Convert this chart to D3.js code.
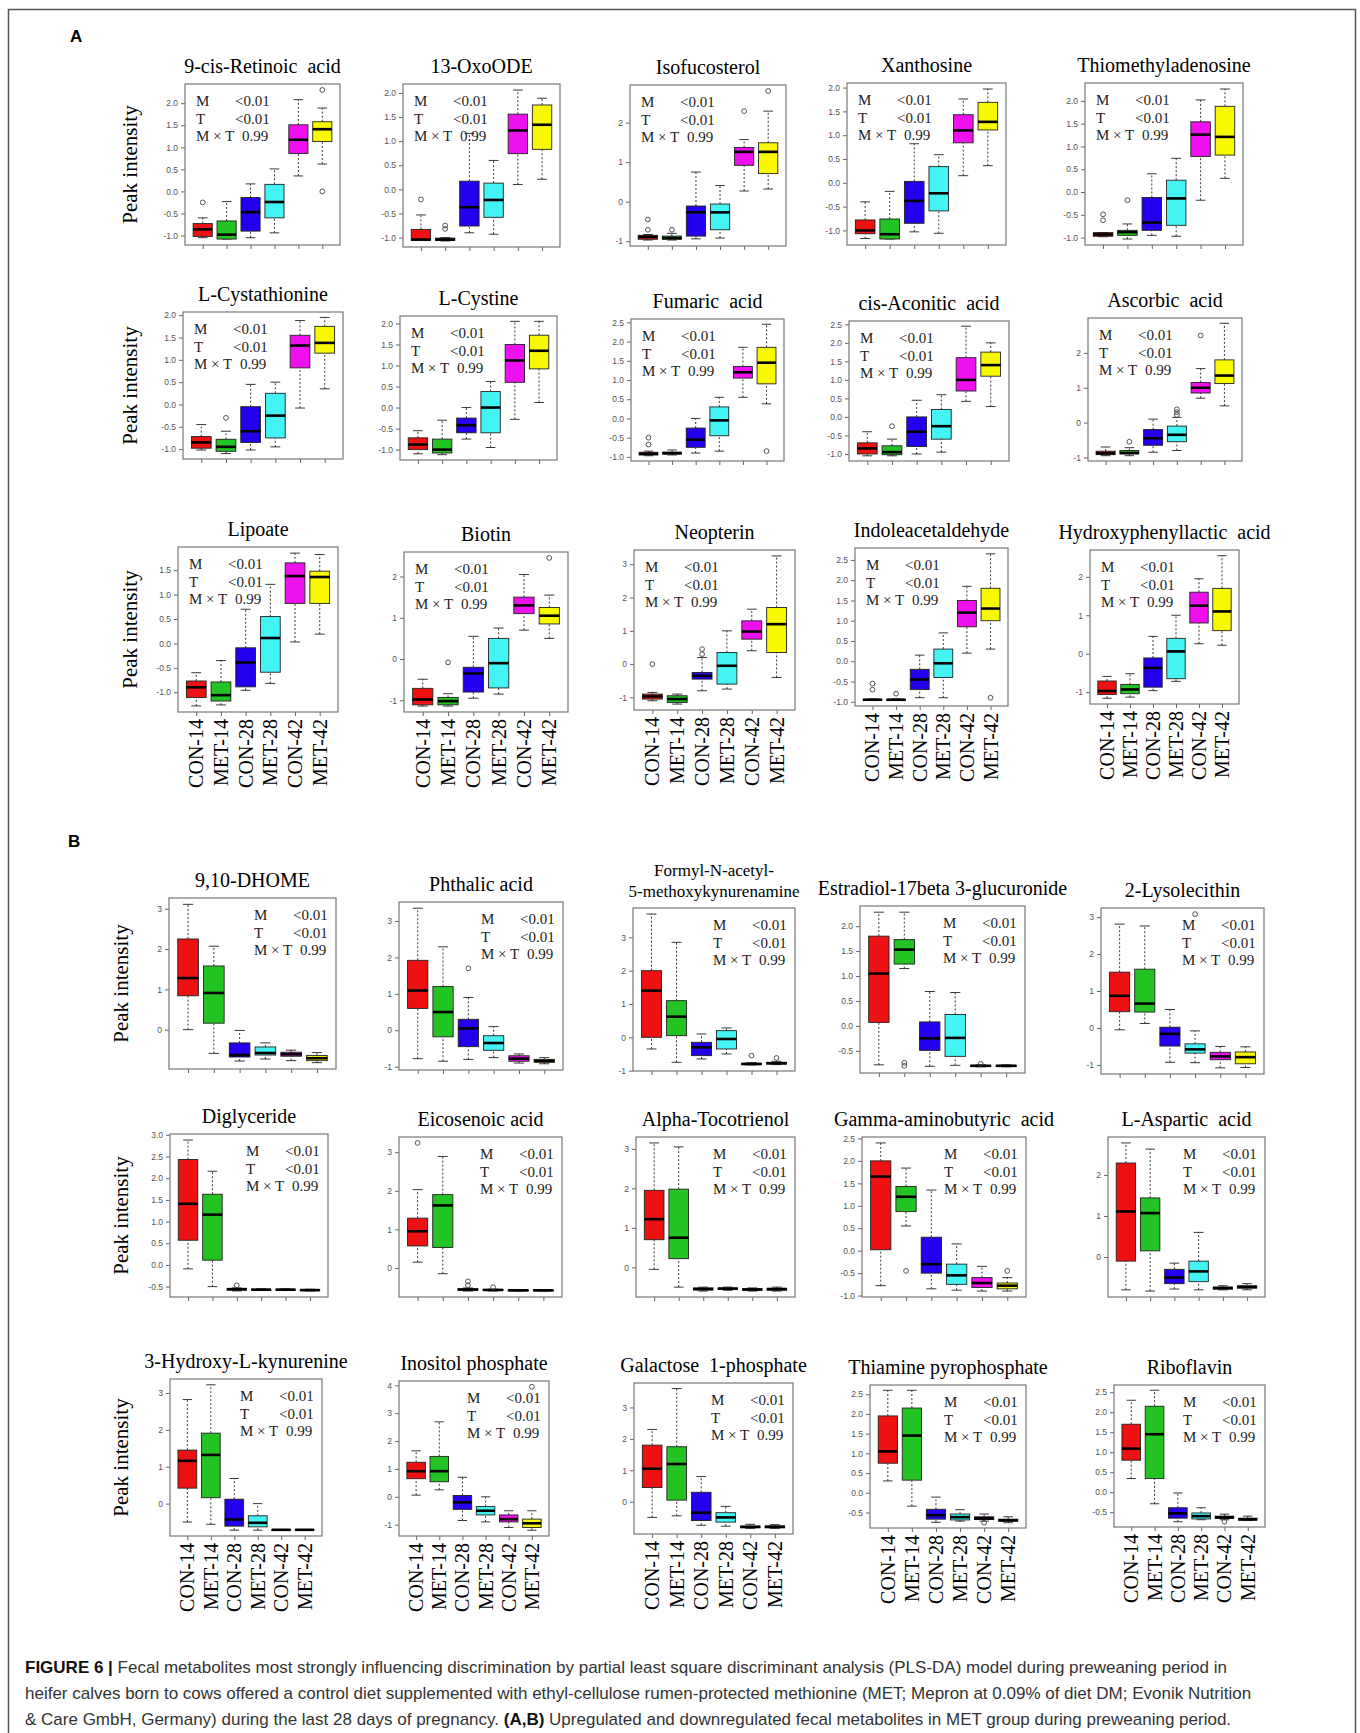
<!DOCTYPE html>
<html>
<head>
<meta charset="utf-8">
<script src="https://cdn.jsdelivr.net/npm/d3@7"></script>
<style>
  body { margin: 0; background: #fff; }
  svg { display: block; }
</style>
</head>
<body>
<svg id="fig" width="1360" height="1733"></svg>
<script>
// groups and colours shared by every panel
const groups = ['CON-14', 'MET-14', 'CON-28', 'MET-28', 'CON-42', 'MET-42']
const groupColors = ['#ee1111', '#22c322', '#2200ee', '#44f4f4', '#ee11ee', '#f8f800']
const statNames = ['M', 'T', 'M \u00d7 T']
const statValues = ['<0.01', '<0.01', '0.99']

// five-number summaries per group: [low whisker, Q1, median, Q3, high whisker]
// outliers: [group index, value]
const retinoicAcid = [[-1.05, -1.02, -0.86, -0.73, -0.60], [-1.08, -1.08, -0.98, -0.67, -0.23], [-1.05, -0.90, -0.47, -0.14, 0.17], [-0.94, -0.60, -0.24, 0.16, 0.51], [0.35, 0.86, 1.17, 1.51, 2.08], [0.62, 1.13, 1.41, 1.58, 1.89]]
const retinoicAcidOut = [[0, -0.25], [5, 2.30], [5, 0.0]]
const retinoicAcidTicks = [-1, -0.5, 0, 0.5, 1, 1.5, 2]

const oxoODE = [[-1.06, -1.06, -1.04, -0.83, -0.53], [-1.07, -1.06, -1.04, -1.01, -1.0], [-0.90, -0.76, -0.37, 0.17, 1.16], [-0.93, -0.58, -0.22, 0.13, 0.60], [0.10, 0.74, 1.22, 1.56, 2.06], [0.21, 0.83, 1.34, 1.75, 1.89]]
const oxoODEOut = [[0, -0.21], [1, -0.75], [1, -0.82]]
const oxoODETicks = [-1, -0.5, 0, 0.5, 1, 1.5, 2]

const isofucosterol = [[-0.97, -0.95, -0.89, -0.85, -0.83], [-0.97, -0.95, -0.92, -0.87, -0.80], [-0.94, -0.87, -0.27, -0.11, 0.75], [-0.92, -0.71, -0.27, -0.06, 0.41], [0.27, 0.92, 1.26, 1.37, 1.57], [0.32, 0.71, 1.26, 1.49, 2.29]]
const isofucosterolOut = [[0, -0.45], [0, -0.71], [1, -0.71], [4, 2.29], [5, 2.80]]
const isofucosterolTicks = [-1, 0, 1, 2]

const xanthosine = [[-1.17, -1.07, -1.0, -0.78, -0.40], [-1.18, -1.18, -1.08, -0.76, -0.18], [-1.03, -0.85, -0.38, 0.03, 0.82], [-1.06, -0.59, -0.22, 0.34, 0.59], [0.15, 0.84, 1.10, 1.43, 1.76], [0.36, 1.11, 1.28, 1.69, 1.97]]
const xanthosineOut = []
const xanthosineTicks = [-1, -0.5, 0, 0.5, 1, 1.5, 2]

const thiomethyladenosine = [[-0.98, -0.97, -0.93, -0.89, -0.89], [-1.03, -0.95, -0.88, -0.84, -0.70], [-0.95, -0.84, -0.67, -0.12, 0.40], [-0.97, -0.73, -0.14, 0.26, 0.74], [-0.18, 0.78, 1.26, 1.54, 2.02], [0.30, 0.81, 1.21, 1.88, 2.26]]
const thiomethyladenosineOut = [[0, -0.49], [0, -0.62], [1, -0.18]]
const thiomethyladenosineTicks = [-1, -0.5, 0, 0.5, 1, 1.5, 2]

const cystathionine = [[-1.02, -0.98, -0.85, -0.72, -0.45], [-1.1, -1.05, -0.95, -0.78, -0.6], [-1.02, -0.85, -0.6, -0.05, 0.45], [-0.95, -0.75, -0.25, 0.25, 0.5], [-0.08, 0.82, 1.32, 1.55, 1.88], [0.35, 1.15, 1.38, 1.75, 1.95]]
const cystathionineOut = [[1, -0.3]]
const cystathionineTicks = [-1, -0.5, 0, 0.5, 1, 1.5, 2]

const cystine = [[-1.1, -1.0, -0.88, -0.72, -0.55], [-1.12, -1.08, -1.0, -0.75, -0.3], [-0.75, -0.6, -0.42, -0.25, 0.0], [-0.95, -0.6, 0.0, 0.38, 0.62], [-0.28, 0.6, 1.12, 1.5, 2.05], [0.12, 0.92, 1.35, 1.72, 2.05]]
const cystineOut = []
const cystineTicks = [-1, -0.5, 0, 0.5, 1, 1.5, 2]

const fumaricAcid = [[-0.97, -0.95, -0.92, -0.88, -0.85], [-0.95, -0.93, -0.9, -0.88, -0.82], [-0.9, -0.75, -0.55, -0.25, 0.0], [-0.85, -0.45, -0.05, 0.3, 0.55], [0.55, 1.05, 1.2, 1.35, 1.85], [0.38, 0.9, 1.45, 1.85, 2.45]]
const fumaricAcidOut = [[0, -0.5], [0, -0.68], [5, -0.85]]
const fumaricAcidTicks = [-1, -0.5, 0, 0.5, 1, 1.5, 2, 2.5]

const aconiticAcid = [[-1.05, -1.0, -0.85, -0.7, -0.4], [-1.05, -1.02, -0.95, -0.78, -0.6], [-1.0, -0.8, -0.4, 0.0, 0.45], [-0.95, -0.6, -0.25, 0.2, 0.6], [0.42, 0.7, 1.0, 1.6, 2.45], [0.28, 1.1, 1.4, 1.75, 2.0]]
const aconiticAcidOut = [[1, -0.25]]
const aconiticAcidTicks = [-1, -0.5, 0, 0.5, 1, 1.5, 2, 2.5]

const ascorbicAcid = [[-0.95, -0.92, -0.88, -0.82, -0.7], [-0.95, -0.9, -0.87, -0.8, -0.72], [-0.85, -0.65, -0.45, -0.2, 0.1], [-0.8, -0.55, -0.35, -0.1, 0.15], [0.7, 0.85, 1.0, 1.15, 1.55], [0.48, 1.12, 1.35, 1.8, 2.85]]
const ascorbicAcidOut = [[1, -0.55], [3, 0.22], [3, 0.3], [3, 0.38], [4, 2.5]]
const ascorbicAcidTicks = [-1, 0, 1, 2]

const lipoate = [[-1.28, -1.11, -0.90, -0.77, -0.60], [-1.26, -1.18, -1.06, -0.79, -0.35], [-0.96, -0.89, -0.39, -0.09, 0.70], [-0.82, -0.59, 0.11, 0.55, 1.21], [0.03, 0.82, 1.38, 1.65, 1.85], [0.19, 0.82, 1.36, 1.48, 1.82]]
const lipoateOut = []
const lipoateTicks = [-1, -0.5, 0, 0.5, 1, 1.5]

const biotin = [[-1.14, -1.11, -0.98, -0.71, -0.49], [-1.14, -1.11, -1.02, -0.93, -0.84], [-0.95, -0.8, -0.35, -0.2, 0.55], [-0.85, -0.7, -0.1, 0.5, 0.75], [0.7, 1.1, 1.3, 1.5, 2.05], [0.5, 0.85, 1.05, 1.25, 1.55]]
const biotinOut = [[1, -0.08], [5, 2.45]]
const biotinTicks = [-1, 0, 1, 2]

const neopterin = [[-1.1, -1.05, -0.97, -0.9, -0.85], [-1.2, -1.15, -1.05, -0.95, -0.9], [-0.8, -0.45, -0.35, -0.25, 0.2], [-0.75, -0.6, -0.05, 0.35, 1.0], [0.4, 0.75, 0.98, 1.3, 1.65], [-0.4, 0.35, 1.2, 1.7, 3.25]]
const neopterinOut = [[0, 0.0], [2, 0.3], [2, 0.45]]
const neopterinTicks = [-1, 0, 1, 2, 3]

const indoleacetaldehyde = [[-0.96, -0.95, -0.95, -0.94, -0.93], [-0.96, -0.95, -0.95, -0.94, -0.93], [-0.9, -0.7, -0.45, -0.2, 0.15], [-0.9, -0.4, -0.05, 0.3, 0.7], [0.2, 0.85, 1.2, 1.5, 1.85], [0.3, 1.0, 1.3, 1.8, 2.65]]
const indoleacetaldehydeOut = [[0, -0.55], [0, -0.7], [1, -0.8], [5, -0.9]]
const indoleacetaldehydeTicks = [-1, -0.5, 0, 0.5, 1, 1.5, 2, 2.5]

const hydroxyphenyllactic = [[-1.16, -1.06, -0.97, -0.71, -0.59], [-1.13, -1.04, -0.93, -0.80, -0.52], [-0.96, -0.87, -0.37, -0.11, 0.45], [-0.72, -0.65, 0.06, 0.4, 1.0], [0.26, 0.8, 1.25, 1.6, 1.95], [0.22, 0.6, 1.1, 1.7, 2.55]]
const hydroxyphenyllacticOut = []
const hydroxyphenyllacticTicks = [-1, 0, 1, 2]

const dhome = [[0.0, 0.84, 1.28, 2.25, 3.11], [-0.59, 0.16, 0.91, 1.58, 2.07], [-0.78, -0.68, -0.63, -0.33, -0.02], [-0.73, -0.63, -0.58, -0.43, -0.33], [-0.77, -0.66, -0.61, -0.56, -0.51], [-0.82, -0.77, -0.71, -0.64, -0.57]]
const dhomeOut = []
const dhomeTicks = [0, 1, 2, 3]

const phthalicAcid = [[-0.78, 0.60, 1.09, 1.92, 3.35], [-0.85, -0.18, 0.50, 1.20, 2.29], [-0.8, -0.45, 0.05, 0.3, 0.9], [-0.75, -0.55, -0.35, -0.15, 0.1], [-0.9, -0.85, -0.78, -0.7, -0.65], [-0.92, -0.88, -0.84, -0.8, -0.75]]
const phthalicAcidOut = [[2, 1.7]]
const phthalicAcidTicks = [-1, 0, 1, 2, 3]

const formylKynurenamine = [[-0.35, 0.0, 1.4, 2.0, 3.7], [-0.75, 0.05, 0.62, 1.1, 2.85], [-0.65, -0.55, -0.3, -0.15, 0.1], [-0.5, -0.35, -0.05, 0.2, 0.28], [-0.83, -0.82, -0.8, -0.78, -0.76], [-0.82, -0.8, -0.78, -0.75, -0.72]]
const formylKynurenamineOut = [[4, -0.55], [5, -0.62]]
const formylKynurenamineTicks = [-1, 0, 1, 2, 3]

const estradiolGlucuronide = [[-0.78, 0.07, 1.05, 1.80, 2.28], [1.15, 1.24, 1.53, 1.73, 2.28], [-0.81, -0.49, -0.25, 0.08, 0.69], [-0.79, -0.61, -0.24, 0.23, 0.67], [-0.82, -0.81, -0.8, -0.79, -0.78], [-0.82, -0.81, -0.8, -0.79, -0.78]]
const estradiolGlucuronideOut = [[1, -0.74], [1, -0.8], [4, -0.76]]
const estradiolGlucuronideTicks = [-0.5, 0, 0.5, 1, 1.5, 2]

const lysolecithin = [[-0.05, 0.44, 0.87, 1.51, 2.81], [0.12, 0.43, 0.66, 1.59, 2.76], [-0.93, -0.49, -0.16, 0.02, 0.50], [-0.94, -0.68, -0.58, -0.43, -0.08], [-1.08, -0.86, -0.77, -0.66, -0.50], [-1.07, -0.97, -0.79, -0.65, -0.51]]
const lysolecithinOut = [[3, 3.08]]
const lysolecithinTicks = [-1, 0, 1, 2, 3]

const diglyceride = [[-0.09, 0.57, 1.41, 2.43, 2.88], [-0.50, 0.11, 1.16, 1.63, 2.16], [-0.6, -0.58, -0.56, -0.54, -0.53], [-0.59, -0.58, -0.57, -0.56, -0.55], [-0.59, -0.58, -0.57, -0.56, -0.55], [-0.6, -0.59, -0.58, -0.57, -0.56]]
const diglycerideOut = [[2, -0.47]]
const diglycerideTicks = [-0.5, 0, 0.5, 1, 1.5, 2, 2.5, 3]

const eicosenoicAcid = [[0.15, 0.57, 0.95, 1.29, 2.03], [-0.15, 0.53, 1.62, 1.90, 2.89], [-0.6, -0.58, -0.56, -0.54, -0.52], [-0.6, -0.58, -0.57, -0.56, -0.55], [-0.6, -0.59, -0.58, -0.57, -0.56], [-0.6, -0.59, -0.58, -0.57, -0.56]]
const eicosenoicAcidOut = [[0, 3.24], [2, -0.35], [2, -0.45], [3, -0.5]]
const eicosenoicAcidTicks = [0, 1, 2, 3]

const tocotrienol = [[-0.05, 0.7, 1.22, 1.95, 3.15], [-0.5, 0.22, 0.75, 1.98, 3.05], [-0.6, -0.57, -0.55, -0.52, -0.5], [-0.58, -0.56, -0.54, -0.52, -0.5], [-0.6, -0.58, -0.56, -0.54, -0.52], [-0.6, -0.58, -0.55, -0.53, -0.5]]
const tocotrienolOut = []
const tocotrienolTicks = [0, 1, 2, 3]

const gaba = [[-0.78, 0.02, 1.65, 2.0, 2.4], [0.55, 0.87, 1.2, 1.43, 1.84], [-0.85, -0.5, -0.3, 0.3, 1.35], [-0.88, -0.75, -0.55, -0.3, 0.15], [-0.9, -0.82, -0.72, -0.6, -0.35], [-0.9, -0.85, -0.78, -0.72, -0.6]]
const gabaOut = [[1, -0.45], [5, -0.45]]
const gabaTicks = [-1, -0.5, 0, 0.5, 1, 1.5, 2, 2.5]

const asparticAcid = [[-0.8, -0.1, 1.11, 2.29, 2.78], [-0.83, 0.15, 1.07, 1.44, 2.63], [-0.78, -0.65, -0.5, -0.3, -0.15], [-0.8, -0.6, -0.35, -0.1, 0.6], [-0.8, -0.78, -0.76, -0.73, -0.7], [-0.8, -0.76, -0.73, -0.7, -0.65]]
const asparticAcidOut = []
const asparticAcidTicks = [0, 1, 2]

const hydroxykynurenine = [[-0.50, 0.42, 1.16, 1.45, 2.82], [-0.56, 0.16, 1.32, 1.91, 3.22], [-0.72, -0.61, -0.43, 0.12, 0.68], [-0.72, -0.63, -0.52, -0.33, 0.0], [-0.72, -0.72, -0.71, -0.70, -0.70], [-0.72, -0.72, -0.71, -0.70, -0.70]]
const hydroxykynurenineOut = []
const hydroxykynurenineTicks = [0, 1, 2, 3]

const inositolPhosphate = [[0.06, 0.65, 0.92, 1.24, 1.65], [0.25, 0.54, 0.92, 1.45, 2.69], [-0.85, -0.45, -0.2, 0.05, 0.7], [-0.9, -0.65, -0.5, -0.35, 0.0], [-1.1, -0.9, -0.8, -0.65, -0.5], [-1.2, -1.1, -0.95, -0.8, -0.5]]
const inositolPhosphateOut = [[5, 3.95]]
const inositolPhosphateTicks = [-1, 0, 1, 2, 3, 4]

const galactosePhosphate = [[-0.5, 0.45, 1.05, 1.8, 2.3], [-0.45, 0.05, 1.2, 1.75, 3.6], [-0.75, -0.6, -0.35, 0.3, 0.8], [-0.78, -0.65, -0.5, -0.35, -0.15], [-0.85, -0.83, -0.8, -0.78, -0.72], [-0.85, -0.83, -0.8, -0.77, -0.73]]
const galactosePhosphateOut = []
const galactosePhosphateTicks = [0, 1, 2, 3]

const thiaminePP = [[0.3, 0.75, 1.05, 1.95, 2.6], [-0.34, 0.32, 1.45, 2.15, 2.6], [-0.75, -0.67, -0.57, -0.42, -0.11], [-0.72, -0.69, -0.62, -0.54, -0.43], [-0.72, -0.68, -0.65, -0.61, -0.54], [-0.76, -0.72, -0.70, -0.67, -0.61]]
const thiaminePPOut = [[4, -0.76]]
const thiaminePPTicks = [-0.5, 0, 0.5, 1, 1.5, 2, 2.5]

const riboflavin = [[0.34, 0.80, 1.09, 1.7, 2.3], [-0.29, 0.34, 1.45, 2.15, 2.55], [-0.74, -0.65, -0.53, -0.39, -0.02], [-0.69, -0.67, -0.60, -0.52, -0.39], [-0.69, -0.66, -0.63, -0.60, -0.55], [-0.71, -0.70, -0.68, -0.65, -0.60]]
const riboflavinOut = [[4, -0.74]]
const riboflavinTicks = [-0.5, 0, 0.5, 1, 1.5, 2, 2.5]

// panel titles in reading order ('|' splits a two-line title)
const titles = [
  '9-cis-Retinoic  acid', '13-OxoODE', 'Isofucosterol', 'Xanthosine', 'Thiomethyladenosine',
  'L-Cystathionine', 'L-Cystine', 'Fumaric  acid', 'cis-Aconitic  acid', 'Ascorbic  acid',
  'Lipoate', 'Biotin', 'Neopterin', 'Indoleacetaldehyde', 'Hydroxyphenyllactic  acid',
  '9,10-DHOME', 'Phthalic acid', 'Formyl-N-acetyl-|5-methoxykynurenamine', 'Estradiol-17beta 3-glucuronide', '2-Lysolecithin',
  'Diglyceride', 'Eicosenoic acid', 'Alpha-Tocotrienol', 'Gamma-aminobutyric  acid', 'L-Aspartic  acid',
  '3-Hydroxy-L-kynurenine', 'Inositol phosphate', 'Galactose  1-phosphate', 'Thiamine pyrophosphate', 'Riboflavin'
]

const panelStats = [
  [retinoicAcid, retinoicAcidOut, retinoicAcidTicks], [oxoODE, oxoODEOut, oxoODETicks],
  [isofucosterol, isofucosterolOut, isofucosterolTicks], [xanthosine, xanthosineOut, xanthosineTicks],
  [thiomethyladenosine, thiomethyladenosineOut, thiomethyladenosineTicks],
  [cystathionine, cystathionineOut, cystathionineTicks], [cystine, cystineOut, cystineTicks],
  [fumaricAcid, fumaricAcidOut, fumaricAcidTicks], [aconiticAcid, aconiticAcidOut, aconiticAcidTicks],
  [ascorbicAcid, ascorbicAcidOut, ascorbicAcidTicks],
  [lipoate, lipoateOut, lipoateTicks], [biotin, biotinOut, biotinTicks], [neopterin, neopterinOut, neopterinTicks],
  [indoleacetaldehyde, indoleacetaldehydeOut, indoleacetaldehydeTicks],
  [hydroxyphenyllactic, hydroxyphenyllacticOut, hydroxyphenyllacticTicks],
  [dhome, dhomeOut, dhomeTicks], [phthalicAcid, phthalicAcidOut, phthalicAcidTicks],
  [formylKynurenamine, formylKynurenamineOut, formylKynurenamineTicks],
  [estradiolGlucuronide, estradiolGlucuronideOut, estradiolGlucuronideTicks],
  [lysolecithin, lysolecithinOut, lysolecithinTicks],
  [diglyceride, diglycerideOut, diglycerideTicks], [eicosenoicAcid, eicosenoicAcidOut, eicosenoicAcidTicks],
  [tocotrienol, tocotrienolOut, tocotrienolTicks], [gaba, gabaOut, gabaTicks],
  [asparticAcid, asparticAcidOut, asparticAcidTicks],
  [hydroxykynurenine, hydroxykynurenineOut, hydroxykynurenineTicks],
  [inositolPhosphate, inositolPhosphateOut, inositolPhosphateTicks],
  [galactosePhosphate, galactosePhosphateOut, galactosePhosphateTicks],
  [thiaminePP, thiaminePPOut, thiaminePPTicks], [riboflavin, riboflavinOut, riboflavinTicks]
]

// plot-box placement on the page: [left, top, right, bottom]
const boxes = [
  [185, 84, 340, 245], [403, 84, 560, 247], [630, 85, 786, 246], [847, 83, 1006, 245], [1085, 83, 1243, 245],
  [183, 312, 343, 459], [400, 316, 557, 460], [631, 319, 784, 461], [849, 321, 1009, 461], [1088, 318, 1242, 461],
  [178, 547, 338, 712], [404, 552, 568, 712], [634, 550, 795, 710], [855, 548, 1008, 706], [1090, 550, 1239, 704],
  [169, 898, 336, 1069], [399, 902, 563, 1070], [633, 908, 795, 1071], [860, 906, 1025, 1073], [1101, 908, 1264, 1074],
  [170, 1134, 328, 1297], [399, 1137, 562, 1297], [636, 1137, 795, 1297], [862, 1137, 1026, 1297], [1108, 1137, 1265, 1297],
  [170, 1379, 322, 1536], [399, 1381, 549, 1536], [634, 1383, 793, 1534], [870, 1385, 1026, 1528], [1114, 1385, 1265, 1527]
]

const serif = '"Liberation Serif", "Times New Roman", serif'
const sans = '"Liberation Sans", Arial, sans-serif'

const svg = d3.select('#fig')

// outer frame (bottom edge runs off the page)
svg.append('rect')
  .attr('x', 8.5).attr('y', 9.5).attr('width', 1347).attr('height', 1760)
  .attr('fill', 'none').attr('stroke', '#555').attr('stroke-width', 1.5)

svg.append('text').attr('x', 70).attr('y', 42).text('A')
  .attr('font-family', sans).attr('font-weight', 'bold').attr('font-size', 17)
svg.append('text').attr('x', 68).attr('y', 847).text('B')
  .attr('font-family', sans).attr('font-weight', 'bold').attr('font-size', 17)

function drawPanel (i) {
  const [stats, outliers, ticks] = panelStats[i]
  const [x0, y0, x1, y1] = boxes[i]
  const sectionB = i >= 15
  const col = i % 5
  const row = Math.floor(i / 5) % 3

  // R-style ylim: data range padded by 4%
  const allValues = stats.flat().concat(outliers.map(d => d[1]))
  const lo = d3.min(allValues)
  const hi = d3.max(allValues)
  const pad = (hi - lo) * 0.04

  const y = d3.scaleLinear().domain([lo - pad, hi + pad]).range([y1, y0])
  const x = d3.scaleLinear().domain([0.26, 6.74]).range([x0, x1])
  const bw = (x(2) - x(1)) * 0.8

  const g = svg.append('g')

  // title
  const titleLines = titles[i].split('|')
  g.append('text')
    .attr('x', (x0 + x1) / 2)
    .attr('y', y0 - 11 - (titleLines.length - 1) * 21)
    .attr('text-anchor', 'middle')
    .attr('font-family', serif)
    .attr('font-size', titleLines.length > 1 ? 17 : 20)
    .style('white-space', 'pre')
    .selectAll('tspan')
    .data(titleLines)
    .join('tspan')
    .attr('x', (x0 + x1) / 2)
    .attr('dy', (d, k) => k === 0 ? 0 : 21)
    .text(d => d)

  // y axis
  const fmt = ticks.some(t => !Number.isInteger(t)) ? d3.format('.1f') : d3.format('d')
  const yAxis = g.append('g')
    .attr('transform', `translate(${x0},0)`)
    .call(d3.axisLeft(y).tickValues(ticks).tickSize(4).tickPadding(3)
      .tickFormat(d => fmt(d).replace('\u2212', '-')))
  yAxis.select('.domain').remove()
  yAxis.selectAll('line').attr('stroke', '#666')
  yAxis.selectAll('text').attr('font-family', sans).attr('font-size', 8.5).attr('fill', '#555')

  // x axis ticks
  const xAxis = g.append('g')
    .attr('transform', `translate(0,${y1})`)
    .call(d3.axisBottom(x).tickValues([1, 2, 3, 4, 5, 6]).tickSize(4).tickFormat(''))
  xAxis.select('.domain').remove()
  xAxis.selectAll('line').attr('stroke', '#666')

  if (row === 2) {
    g.append('g').selectAll('text')
      .data(groups)
      .join('text')
      .attr('transform', (d, k) => `translate(${x(k + 1)},${y1 + 7}) rotate(-90)`)
      .attr('dy', '0.35em')
      .attr('text-anchor', 'end')
      .attr('font-family', serif)
      .attr('font-size', 20)
      .text(d => d)
  }

  // plot frame
  g.append('rect')
    .attr('x', x0).attr('y', y0).attr('width', x1 - x0).attr('height', y1 - y0)
    .attr('fill', 'none').attr('stroke', '#777').attr('stroke-width', 1.2)

  // y label on the first column
  if (col === 0) {
    const cx = sectionB ? 121 : 130
    g.append('text')
      .attr('transform', `translate(${cx},${(y0 + y1) / 2}) rotate(-90)`)
      .attr('dy', '0.35em')
      .attr('text-anchor', 'middle')
      .attr('font-family', serif)
      .attr('font-size', 21)
      .text('Peak intensity')
  }

  // stats text (top-left in A, top-right in B)
  const sx = sectionB ? x1 - 82 : x0 + 11
  const st = g.append('g').attr('font-family', serif).attr('font-size', 15).attr('fill', '#222')
  statNames.forEach((name, k) => {
    const by = y0 + 22 + k * 17.5
    st.append('text').attr('x', sx).attr('y', by).text(name)
    st.append('text').attr('x', sx + (k === 2 ? 46 : 39)).attr('y', by).text(statValues[k])
  })

  // boxes
  const bx = g.append('g').selectAll('g')
    .data(stats)
    .join('g')
    .attr('transform', (d, k) => `translate(${x(k + 1)},0)`)

  // dashed whiskers
  bx.selectAll('line.whisker')
    .data(d => [[d[0], d[1]], [d[3], d[4]]])
    .join('line')
    .attr('class', 'whisker')
    .attr('y1', d => y(d[0])).attr('y2', d => y(d[1]))
    .attr('stroke', '#222').attr('stroke-width', 0.9).attr('stroke-dasharray', '2,2')

  // staples
  bx.selectAll('line.staple')
    .data(d => [d[0], d[4]])
    .join('line')
    .attr('class', 'staple')
    .attr('x1', -bw / 4).attr('x2', bw / 4)
    .attr('y1', d => y(d)).attr('y2', d => y(d))
    .attr('stroke', '#222').attr('stroke-width', 0.9)

  bx.append('rect')
    .attr('x', -bw / 2)
    .attr('width', bw)
    .attr('y', d => y(d[3]))
    .attr('height', d => Math.max(1, y(d[1]) - y(d[3])))
    .attr('fill', (d, k) => groupColors[k])
    .attr('stroke', '#222')
    .attr('stroke-width', 0.9)

  bx.append('line')
    .attr('x1', -bw / 2).attr('x2', bw / 2)
    .attr('y1', d => y(d[2])).attr('y2', d => y(d[2]))
    .attr('stroke', '#000').attr('stroke-width', 2.6)

  g.append('g').selectAll('circle')
    .data(outliers)
    .join('circle')
    .attr('cx', d => x(d[0] + 1))
    .attr('cy', d => y(d[1]))
    .attr('r', 2.4)
    .attr('fill', 'none')
    .attr('stroke', '#444')
    .attr('stroke-width', 0.9)
}

d3.range(30).forEach(drawPanel)

// caption
const captionLines = [
  [['FIGURE 6 | ', true], ['Fecal metabolites most strongly influencing discrimination by partial least square discriminant analysis (PLS-DA) model during preweaning period in', false]],
  [['heifer calves born to cows offered a control diet supplemented with ethyl-cellulose rumen-protected methionine (MET; Mepron at 0.09% of diet DM; Evonik Nutrition', false]],
  [['& Care GmbH, Germany) during the last 28 days of pregnancy. ', false], ['(A,B)', true], [' Upregulated and downregulated fecal metabolites in MET group during preweaning period.', false]]
]
const cap = svg.append('g').attr('font-family', sans).attr('font-size', 17)
captionLines.forEach((parts, k) => {
  const t = cap.append('text').attr('x', 25).attr('y', 1673 + k * 26).style('white-space', 'pre')
  parts.forEach(([s, bold]) => {
    t.append('tspan').text(s)
      .attr('font-weight', bold ? 'bold' : 'normal')
      .attr('fill', bold ? '#111' : '#333')
  })
})
</script>
</body>
</html>
